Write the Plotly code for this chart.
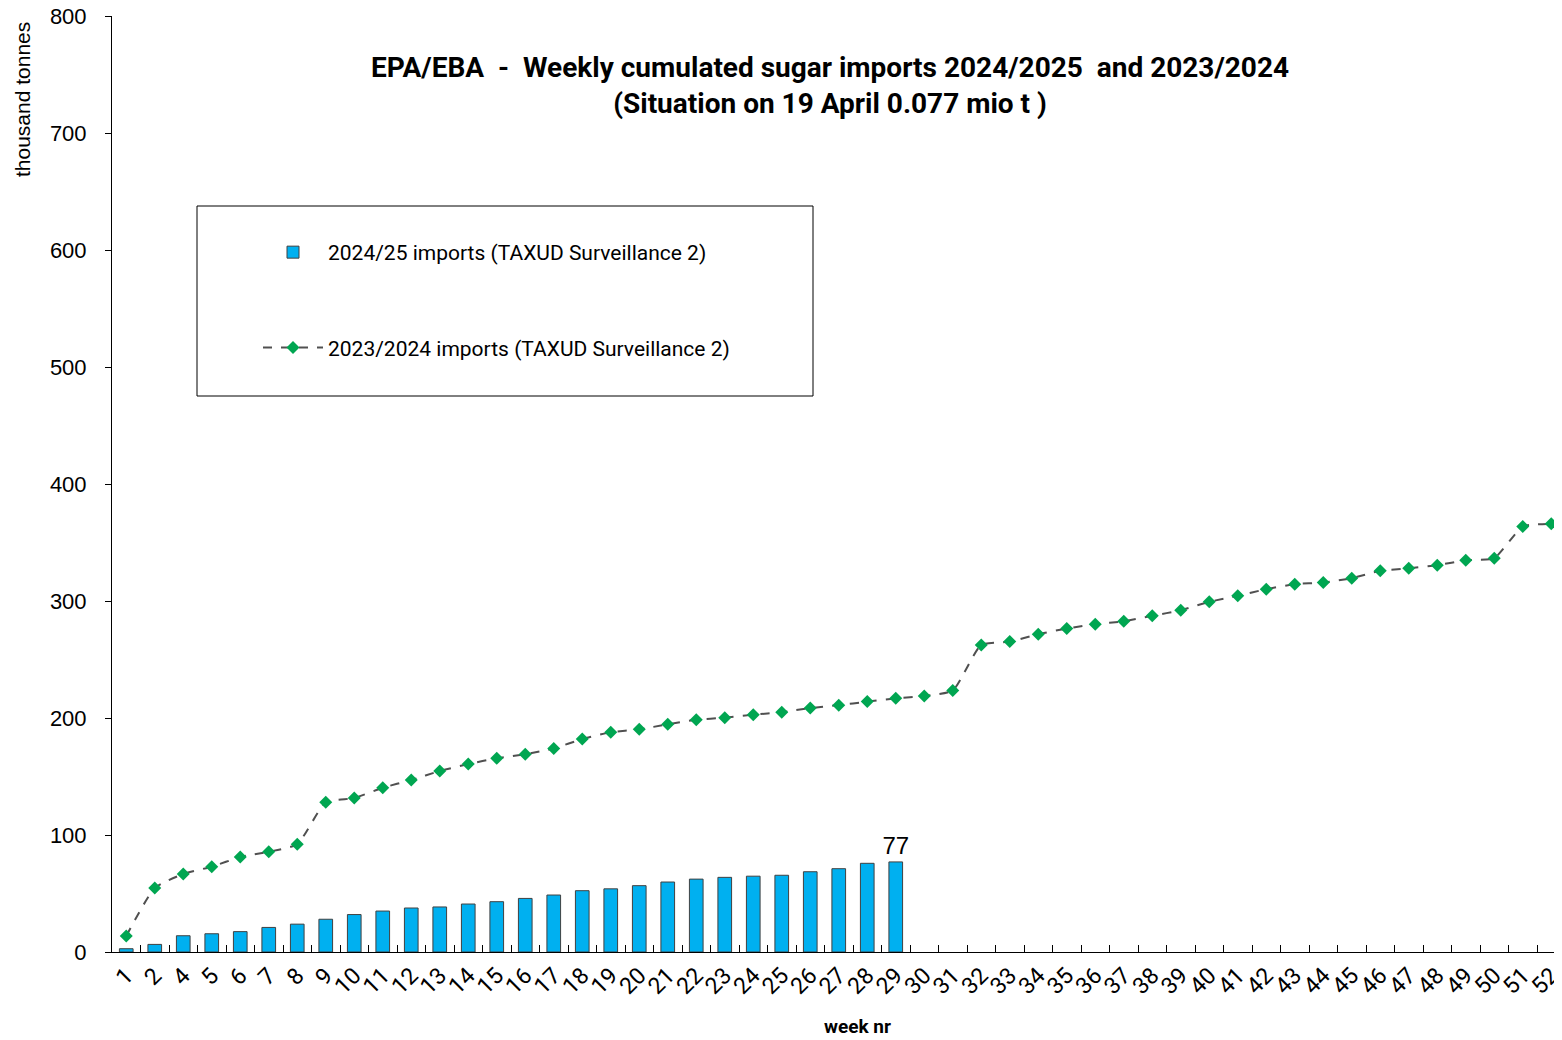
import plotly.graph_objects as go

weeks = ["1", "2"] + [str(w) for w in range(4, 53)]

imports_2024_25 = [2.8, 6.5, 13.9, 15.6, 17.4, 21.0, 23.8, 28.0, 32.0, 35.0, 37.6, 38.5, 41.0, 43.0,
                   45.8, 48.7, 52.4, 54.0, 56.7, 59.8, 62.3, 63.8, 64.8, 65.6, 68.6, 71.2, 75.8, 77.0]

imports_2023_24 = [13.7, 54.7, 66.7, 72.9, 81.2, 85.7, 92.0, 128.0, 131.6, 140.4, 147.0, 154.7, 160.7,
                   165.5, 169.0, 174.0, 182.0, 187.8, 190.3, 194.6, 198.5, 200.3, 202.8, 205.0, 208.5,
                   211.0, 214.0, 216.8, 218.8, 223.4, 262.5, 265.3, 271.6, 276.5, 280.2, 282.7, 287.3,
                   292.1, 299.3, 304.4, 310.1, 314.4, 315.8, 319.5, 325.8, 328.0, 330.6, 334.9, 336.6,
                   363.7, 366.0]

bar_vals = imports_2024_25 + [None] * (len(weeks) - len(imports_2024_25))
bar_text = [""] * (len(imports_2024_25) - 1) + ["77"] + [""] * (len(weeks) - len(imports_2024_25))

# page has an 8px body margin; figure sized to fit the 1562x1040 window
OFF = 8
W, H = 1562 - OFF, 1040 - OFF
L, R, T, B = 112 - OFF, 0, 16 - OFF, 88
PW, PH = W - L - R, H - T - B
CAT_W = 28.5  # px per category (plot runs slightly past the right edge, as in the reference)

def px(x):
    return (x - OFF - L) / PW

def py(y):
    return (H - B - (y - OFF)) / PH

TXT = "Roboto"

fig = go.Figure()
fig.add_trace(go.Bar(
    x=weeks, y=bar_vals, name="2024/25 imports (TAXUD Surveillance 2)",
    marker=dict(color="#00B0F0", line=dict(color="#404040", width=1)),
    text=bar_text, textposition="outside", cliponaxis=False, constraintext="none",
    textfont=dict(family="Liberation Sans", size=24, color="#000000"),
    legendgroup="a",
))
fig.add_trace(go.Scatter(
    x=weeks, y=imports_2023_24, name="2023/2024 imports (TAXUD Surveillance 2)",
    mode="lines+markers", cliponaxis=False,
    line=dict(color="#505050", width=2, dash="dash", shape="spline", smoothing=0.5),
    marker=dict(symbol="diamond", size=10, color="#00A651"),
    legendgroup="b",
))

fig.update_layout(
    width=W, height=H,
    margin=dict(l=L, r=R, t=T, b=B, autoexpand=False),
    paper_bgcolor="white", plot_bgcolor="white",
    bargap=0.52,
    showlegend=True,
    legend=dict(x=px(258), y=py(232), xanchor="left", yanchor="top",
                traceorder="grouped", tracegroupgap=65,
                font=dict(family=TXT, size=21, color="#000000"),
                bgcolor="rgba(0,0,0,0)", itemwidth=60),
    xaxis=dict(type="category", categoryorder="array", categoryarray=weeks,
               range=[-0.5, -0.5 + PW / CAT_W],
               showline=True, linecolor="#000000", linewidth=1,
               ticks="inside", tickson="boundaries", ticklen=7, tickcolor="#000000",
               tickangle=-45, tickfont=dict(family=TXT, size=23, color="#000000"),
               showgrid=False, zeroline=False),
    yaxis=dict(range=[0, 800], dtick=100, showline=True, linecolor="#000000", linewidth=1,
               ticks="outside", ticklen=6, tickcolor="#000000",
               tickfont=dict(family="Liberation Sans", size=22, color="#000000"),
               ticklabelstandoff=14, ticklabeloverflow="allow",
               showgrid=False, zeroline=False),
    shapes=[dict(type="rect", xref="paper", yref="paper",
                 x0=px(197), x1=px(813), y0=py(396), y1=py(206),
                 line=dict(color="#000000", width=1), fillcolor="rgba(0,0,0,0)")],
    annotations=[
        dict(text="<b>EPA/EBA  -  Weekly cumulated sugar imports 2024/2025  and 2023/2024</b><br><b>(Situation on 19 April 0.077 mio t )</b>",
             xref="paper", yref="paper", x=px(830), y=py(86), xanchor="center", yanchor="middle",
             showarrow=False, font=dict(family=TXT, size=28, color="#000000")),
        dict(text="thousand tonnes", textangle=-90, xref="paper", yref="paper",
             x=px(22), y=py(100), xanchor="center", yanchor="middle", showarrow=False,
             font=dict(family="Liberation Sans", size=21, color="#000000")),
        dict(text="<b>week nr</b>", xref="paper", yref="paper", x=px(857), y=py(1026),
             xanchor="center", yanchor="middle", showarrow=False,
             font=dict(family=TXT, size=19, color="#000000")),
    ],
)

fig.write_html("out.html")
